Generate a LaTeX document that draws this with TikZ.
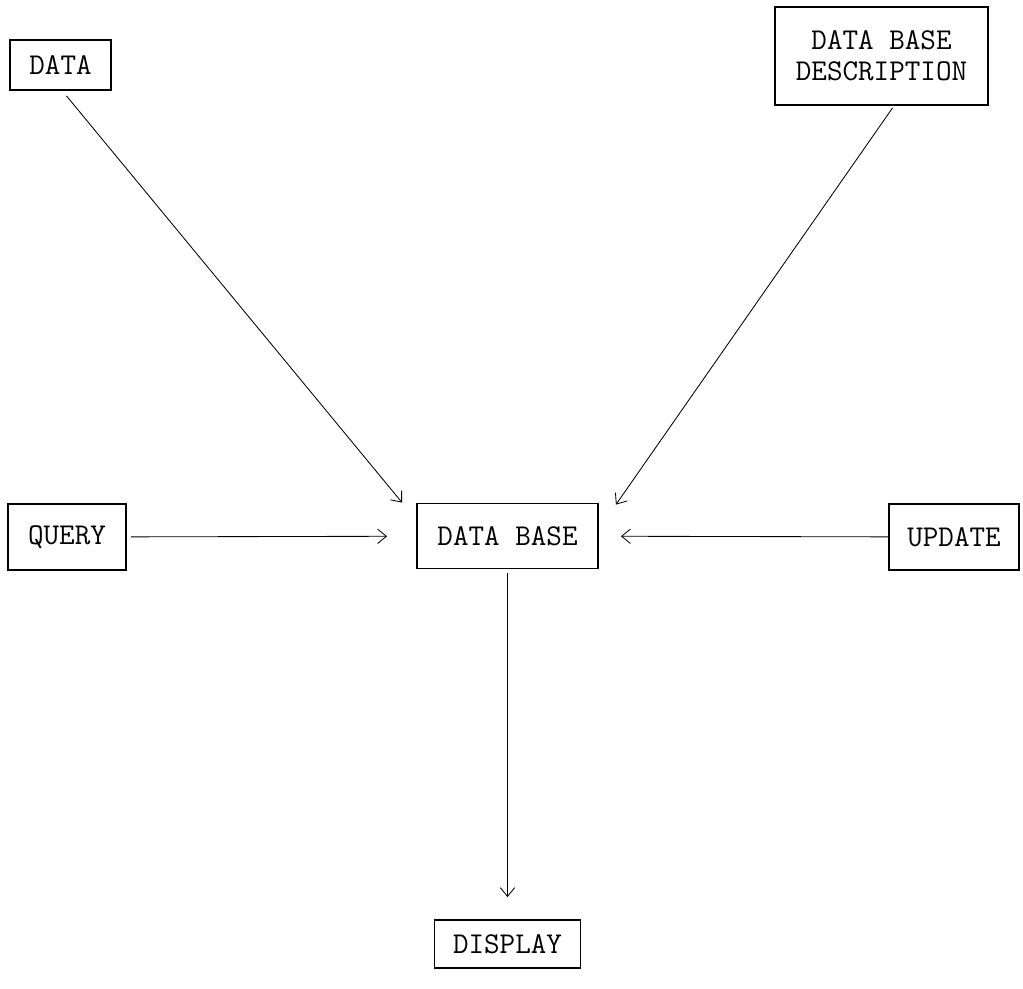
\documentclass[tikz,border=0pt]{standalone}
\usepackage{fontspec}
\setmonofont{Latin Modern Mono}
\usetikzlibrary{arrows.meta}
\begin{document}
\begin{tikzpicture}[x=0.025cm,y=-0.025cm,
  box/.style={draw,line width=1.3pt,inner sep=0pt,align=center,
    font=\ttfamily\fontsize{21.5}{22}\selectfont},
  link/.style={line width=0.6pt,-{Straight Barb[length=0.22cm,width=0.36cm]}}]
\useasboundingbox (0,0) rectangle (1023,988);
\node[box,minimum width=2.525cm,minimum height=1.25cm] (data) at (60.5,65) {DATA};
\node[box,minimum width=5.325cm,minimum height=2.45cm] (desc) at (881.5,56) {DATA BASE\\DESCRIPTION};
\node[box,minimum width=2.95cm,minimum height=1.65cm] (query) at (67,537) {QUERY};
\node[box,minimum width=4.525cm,minimum height=1.625cm] (db) at (507.5,536) {DATA BASE};
\node[box,minimum width=3.25cm,minimum height=1.65cm] (update) at (954,537) {UPDATE};
\node[box,minimum width=3.65cm,minimum height=1.2cm] (display) at (507.5,944) {DISPLAY};
% arrows into the data base
\draw[link] ([shift={(6,5)}]data.south) -- ([shift={(-14,0)}]db.north west);
\draw[link] ([shift={(11,2)}]desc.south) -- ([shift={(17,2)}]db.north east);
\draw[link,shorten <=0.1cm,shorten >=0.725cm] (query) -- (db);
\draw[link,shorten >=0.55cm] (update) -- (db);
\draw[link,shorten <=0.1cm,shorten >=0.55cm] (db) -- (display);
\end{tikzpicture}
\end{document}
